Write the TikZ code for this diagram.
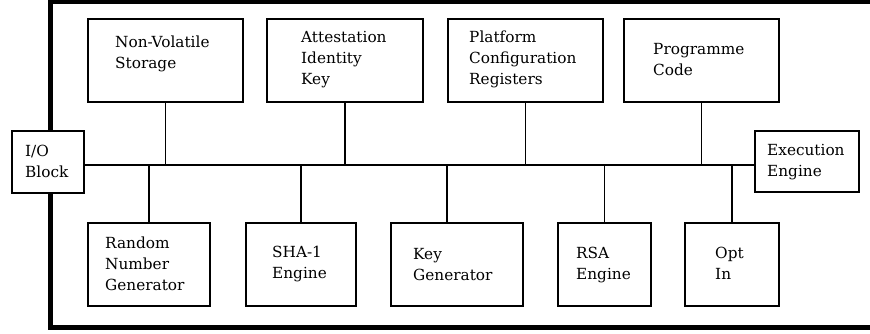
\documentclass[tikz,border=0pt]{standalone}
\usepackage{fontspec}
\setmainfont{DejaVu Serif}
\begin{document}
\begin{tikzpicture}[x=1pt,y=-1pt,
  box/.style={draw=black, line width=2pt, fill=white, inner sep=0pt, anchor=north west},
  lbl/.style={inner sep=0pt, anchor=base west, text width=140pt, align=left, font=\fontsize{15.3}{21}\selectfont},
  link/.style={line width=1.7pt},
  busline/.style={line width=2.8pt},
  frameline/.style={line width=4.8pt}]
\useasboundingbox (0,0) rectangle (870,334);
% outer frame
\coordinate (frTR) at (880,2);
\coordinate (frTL) at (50.8,2);
\coordinate (frBL) at (50.8,327.5);
\coordinate (frBR) at (880,327.5);
\draw[frameline] (frTR) -- (frTL) -- (frBL) -- (frBR);
% top row
\node[box, minimum width=155pt, minimum height=83pt] (nvs) at (87,18) {};
\node[box, minimum width=156pt, minimum height=83pt] (aik) at (266,18) {};
\node[box, minimum width=155pt, minimum height=83pt] (pcr) at (447,18) {};
\node[box, minimum width=155pt, minimum height=83pt] (pc) at (623,18) {};
% side blocks
\node[box, minimum width=72pt, minimum height=62pt] (io) at (11,130) {};
\node[box, minimum width=104pt, minimum height=61pt] (ee) at (754,130) {};
% bottom row
\node[box, minimum width=122pt, minimum height=83pt] (rng) at (87,222) {};
\node[box, minimum width=110pt, minimum height=83pt] (sha) at (245,222) {};
\node[box, minimum width=132pt, minimum height=83pt] (kg) at (390,222) {};
\node[box, minimum width=93pt, minimum height=83pt] (rsa) at (557,222) {};
\node[box, minimum width=94pt, minimum height=83pt] (opt) at (684,222) {};
% labels
\node[lbl] (nvsT) at ([shift={(28,30)}]nvs.north west) {Non-Volatile\\Storage};
\node[lbl] (aikT) at ([shift={(35,25)}]aik.north west) {Attestation\\Identity\\Key};
\node[lbl] (pcrT) at ([shift={(22,25)}]pcr.north west) {Platform\\Configuration\\Registers};
\node[lbl] (pcT) at ([shift={(30,37)}]pc.north west) {Programme\\Code};
\node[lbl] (ioT) at ([shift={(14,27)}]io.north west) {I/O\\Block};
\node[lbl] (eeT) at ([shift={(13,25)}]ee.north west) {Execution\\Engine};
\node[lbl] (rngT) at ([shift={(18,26)}]rng.north west) {Random\\Number\\Generator};
\node[lbl] (shaT) at ([shift={(27,35)}]sha.north west) {SHA-1\\Engine};
\node[lbl] (kgT) at ([shift={(23,37)}]kg.north west) {Key\\Generator};
\node[lbl] (rsaT) at ([shift={(19,36)}]rsa.north west) {RSA\\Engine};
\node[lbl] (optT) at ([shift={(31,36)}]opt.north west) {Opt\\In};
% bus
\path (io.east) ++(0,3) coordinate (busL);
\path (ee.west) ++(0,3.5) coordinate (busR);
\coordinate (kgtop) at ([xshift=-10pt]kg.north);
\draw[link] (nvs.south) -- (nvs.south |- busL);
\draw[link] (aik.south) -- (aik.south |- busL);
\draw[link] (pcr.south) -- (pcr.south |- busL);
\draw[link] (pc.south) -- (pc.south |- busL);
\draw[link] (rng.north) -- (rng.north |- busL);
\draw[link] (sha.north) -- (sha.north |- busL);
\draw[link] (kgtop) -- (kgtop |- busL);
\draw[link] (rsa.north) -- (rsa.north |- busL);
\draw[link] (opt.north) -- (opt.north |- busL);
\draw[busline] (busL) -- (busR);
\end{tikzpicture}
\end{document}
